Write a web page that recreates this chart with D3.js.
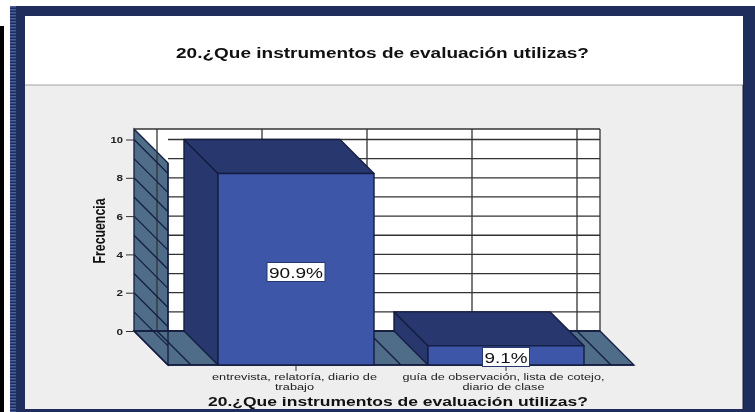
<!DOCTYPE html>
<html><head><meta charset="utf-8">
<script src="https://cdn.jsdelivr.net/npm/d3@7"></script>
<style>html,body{margin:0;padding:0;background:#fff;overflow:hidden}svg{display:block;filter:blur(0.35px)}text{font-family:"Liberation Sans",Arial,sans-serif}</style>
</head><body><svg id="c" width="755" height="412"></svg>
<script>
const categories = ["entrevista, relatoría, diario de|trabajo", "guía de observación, lista de cotejo,|diario de clase"];
const categoryLineWidths = [[165, 39], [202, 82]];
const frequencies = [10, 1];
const percentLabels = ["90.9%", "9.1%"];
const yTickLabels = [0, 2, 4, 6, 8, 10];
const chartTitle = "20.¿Que instrumentos de evaluación utilizas?";
const yAxisTitle = "Frecuencia";

const svg = d3.select("#c");
const defs = svg.append("defs");
const pat = defs.append("pattern").attr("id","st").attr("width",4).attr("height",3).attr("patternUnits","userSpaceOnUse");
pat.append("rect").attr("width",4).attr("height",3).attr("fill","#1f2d5c");
pat.append("rect").attr("width",4).attr("height",1.5).attr("fill","#4a5f9c");

// page & frame
svg.append("rect").attr("x",0).attr("y",26).attr("width",4).attr("height",386).attr("fill","#000");
svg.append("rect").attr("x",10).attr("y",6).attr("width",745).attr("height",406).attr("fill","#1f2d5c");
svg.append("rect").attr("x",10).attr("y",6).attr("width",6).attr("height",406).attr("fill","url(#st)");
svg.append("rect").attr("x",25).attr("y",16).attr("width",718).attr("height",69).attr("fill","#fff");
svg.append("rect").attr("x",25).attr("y",85).attr("width",718).attr("height",324).attr("fill","#eeeeee");
svg.append("line").attr("x1",25).attr("x2",743).attr("y1",85).attr("y2",85).attr("stroke","#a0a0a0").attr("stroke-width",1);
svg.append("line").attr("x1",743).attr("x2",743).attr("y1",85).attr("y2",409).attr("stroke","#151f40").attr("stroke-width",1);

svg.append("text").attr("x",382.5).attr("y",58).attr("text-anchor","middle").attr("font-size",14.5).attr("font-weight","bold")
  .attr("textLength",413).attr("lengthAdjust","spacingAndGlyphs").attr("fill","#111").text(chartTitle);

// scales
const y = d3.scaleLinear().domain([0,10]).range([331,139.5]);
const x = d3.scaleBand().domain(categories).range([157,577]);
const depth = 34, wallL = 134, wallR = 600, wallTop = 129, barHalf = 78;
const floorY = y(0), frontY = floorY + depth, gridC = "#333", edge = "#141d40", gw = 1.3;
const poly = pts => pts.map(p => p.join(",")).join(" ");

// back wall
svg.append("rect").attr("x",wallL).attr("y",wallTop).attr("width",wallR-wallL).attr("height",floorY-wallTop).attr("fill","#fff");
const unitTicks = y.ticks(10);
svg.selectAll(".h").data(unitTicks).join("line").attr("x1",wallL+depth).attr("x2",wallR)
  .attr("y1",d=>y(d)).attr("y2",d=>y(d)).attr("stroke",gridC).attr("stroke-width",gw);

// left wall
svg.append("polygon").attr("points",poly([[wallL,wallTop],[wallL+depth,wallTop+depth],[wallL+depth,frontY],[wallL,floorY]]))
  .attr("fill","#4f6d88").attr("stroke",edge).attr("stroke-width",gw);
// floor
svg.append("polygon").attr("points",poly([[wallL,floorY],[wallR,floorY],[wallR+depth,frontY],[wallL+depth,frontY]]))
  .attr("fill","#4f6d88").attr("stroke",edge).attr("stroke-width",gw);

// verticals (band edges and centres)
const vlines = [157, ...categories.map(c=>x(c)+x.bandwidth()/2), ...categories.map(c=>x(c)+x.bandwidth())];
svg.selectAll(".v").data(vlines).join("line").attr("x1",d=>d).attr("x2",d=>d).attr("y1",wallTop).attr("y2",floorY)
  .attr("stroke",gridC).attr("stroke-width",gw);
svg.selectAll(".fd").data(vlines).join("line").attr("x1",d=>d).attr("x2",d=>d+depth).attr("y1",floorY).attr("y2",frontY)
  .attr("stroke",edge).attr("stroke-width",gw);
// wall diagonals
svg.selectAll(".wd").data(unitTicks).join("line").attr("x1",wallL).attr("x2",wallL+depth)
  .attr("y1",d=>y(d)).attr("y2",d=>y(d)+depth).attr("stroke",edge).attr("stroke-width",gw);
svg.append("line").attr("x1",wallL).attr("x2",wallR).attr("y1",wallTop).attr("y2",wallTop).attr("stroke",gridC).attr("stroke-width",gw);
svg.append("line").attr("x1",wallR).attr("x2",wallR).attr("y1",wallTop).attr("y2",floorY).attr("stroke",gridC).attr("stroke-width",gw);
svg.append("line").attr("x1",wallL).attr("x2",wallR).attr("y1",floorY).attr("y2",floorY).attr("stroke",edge).attr("stroke-width",gw);
svg.append("line").attr("x1",wallL+depth).attr("x2",wallL+depth).attr("y1",wallTop+depth).attr("y2",frontY).attr("stroke",edge).attr("stroke-width",gw);
svg.append("line").attr("x1",wallL+depth).attr("x2",wallR+depth).attr("y1",frontY).attr("y2",frontY).attr("stroke",edge).attr("stroke-width",1.6);

// bars
const categoryTextShift = [-1.5, -2.5];
categories.forEach((c,i)=>{
  const cx = x(c)+x.bandwidth()/2, v = y(frequencies[i]);
  const l = cx-barHalf, r = cx+barHalf;
  const g = svg.append("g").attr("stroke",edge).attr("stroke-width",1.4).attr("stroke-linejoin","round");
  g.append("polygon").attr("points",poly([[l,v],[l+depth,v+depth],[l+depth,frontY],[l,floorY]])).attr("fill","#28386f");
  g.append("polygon").attr("points",poly([[l,v],[r,v],[r+depth,v+depth],[l+depth,v+depth]])).attr("fill","#28386f");
  g.append("rect").attr("x",l+depth).attr("y",v+depth).attr("width",r-l).attr("height",frontY-v-depth).attr("fill","#3d56a8");

  svg.append("line").attr("x1",cx+depth).attr("x2",cx+depth).attr("y1",frontY).attr("y2",frontY+6).attr("stroke","#333").attr("stroke-width",1);
  c.split("|").forEach((t,k)=>{
    svg.append("text").attr("x",cx+depth+categoryTextShift[i]).attr("y",380+k*9.5).attr("text-anchor","middle").attr("font-size",8.2)
      .attr("textLength",categoryLineWidths[i][k]).attr("lengthAdjust","spacingAndGlyphs").attr("fill","#222").text(t);
  });
});

// value labels
const labelY = [272, 357];
const labelW = [58, 47];
const labelTextW = [54, 43];
categories.forEach((c,i)=>{
  const cx = x(c)+x.bandwidth()/2+depth;
  svg.append("rect").attr("x",cx-labelW[i]/2).attr("y",labelY[i]-9.5).attr("width",labelW[i]).attr("height",19)
    .attr("fill","#fff").attr("stroke","#28386f").attr("stroke-width",1);
  svg.append("text").attr("x",cx).attr("y",labelY[i]+6).attr("text-anchor","middle").attr("font-size",15.5)
    .attr("textLength",labelTextW[i]).attr("lengthAdjust","spacingAndGlyphs").attr("fill","#111").text(percentLabels[i]);
});

// y axis
const yAxis = d3.axisLeft(y).tickValues(yTickLabels).tickSize(8).tickPadding(3).tickFormat(d3.format("d"));
const ya = svg.append("g").attr("transform",`translate(${wallL},0)`).call(yAxis);
ya.select(".domain").remove();
ya.selectAll("line").attr("stroke","#333");
ya.selectAll("text").attr("font-size",9.5).attr("fill","#222").attr("font-weight","bold")
  .attr("textLength",d=>d>=10?12.5:6.5).attr("lengthAdjust","spacingAndGlyphs")
  .style("font-family",'"Liberation Sans",Arial,sans-serif');

svg.append("text").attr("transform","translate(105,231) rotate(-90)").attr("text-anchor","middle")
  .attr("font-size",17).attr("font-weight","bold").attr("textLength",65).attr("lengthAdjust","spacingAndGlyphs").attr("fill","#111").text(yAxisTitle);
svg.append("text").attr("x",398).attr("y",406).attr("text-anchor","middle").attr("font-size",13.5).attr("font-weight","bold")
  .attr("textLength",380).attr("lengthAdjust","spacingAndGlyphs").attr("fill","#111").text(chartTitle);
</script></body></html>
